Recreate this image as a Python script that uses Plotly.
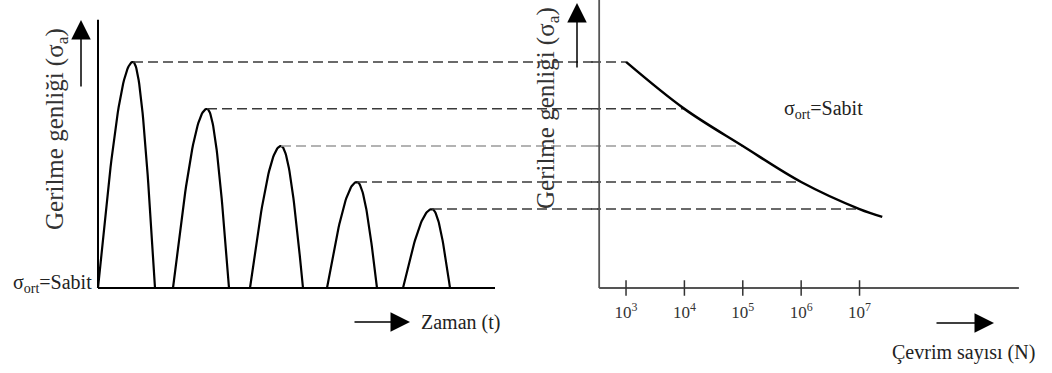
import numpy as np
import plotly.graph_objects as go

W, H = 1052, 373

# ---- data ----
pulse_start = [0.00, 1.50, 3.04, 4.58, 6.10]   # time
pulse_peak_t = [0.70, 2.18, 3.66, 5.18, 6.68]
pulse_end = [1.14, 2.62, 4.10, 5.58, 7.04]
amplitudes = [7.85, 6.22, 4.93, 3.68, 2.74]     # stress amplitude
cycles = [1e3, 1e4, 1e5, 1e6, 1e7]              # cycles to failure per amplitude
curve_N = [1e3, 1e4, 1e5, 1e6, 1e7, 2.45e7]
curve_S = [7.85, 6.22, 4.93, 3.68, 2.74, 2.47]
tick_vals = [1e3, 1e4, 1e5, 1e6, 1e7]
tick_text = ["10<sup>3</sup>", "10<sup>4</sup>", "10<sup>5</sup>", "10<sup>6</sup>", "10<sup>7</sup>"]
dash_colors = ["#3a3a3a", "#3a3a3a", "#9a9a9a", "#3a3a3a", "#3a3a3a"]

t_axis_max = 9.31     # height of left vertical axis
t_base_end = 7.94     # end of time baseline
left_range = [-0.2, 10.02]
n_axis_log = 2.54     # log10 position of N-axis origin
right_range = [2.40, 9.80]
n_base_end_log = 9.73

fig = go.Figure()

blk = dict(color="black", width=2)

# left panel axes
fig.add_trace(go.Scatter(x=[0, 0], y=[0, t_axis_max], mode="lines", line=blk,
                         xaxis="x", yaxis="y", hoverinfo="skip"))
fig.add_trace(go.Scatter(x=[0, t_base_end], y=[0, 0], mode="lines", line=blk,
                         xaxis="x", yaxis="y", hoverinfo="skip"))

# pulses
for s, p, e, a in zip(pulse_start, pulse_peak_t, pulse_end, amplitudes):
    u = np.linspace(0, 1, 40)
    xr = s + (p - s) * u
    yr = a * np.sin(np.pi / 2 * u)
    xf = p + (e - p) * u
    yf = a * np.cos(np.pi / 2 * u)
    fig.add_trace(go.Scatter(x=np.concatenate([xr, xf]), y=np.concatenate([yr, yf]),
                             mode="lines", line=dict(color="black", width=2.2),
                             xaxis="x", yaxis="y", hoverinfo="skip"))

# dashed connectors
for p, a, n, c in zip(pulse_peak_t, amplitudes, cycles, dash_colors):
    fig.add_trace(go.Scatter(x=[p, left_range[1]], y=[a, a], mode="lines",
                             line=dict(color=c, width=1.5, dash="10px,5px"),
                             xaxis="x", yaxis="y", hoverinfo="skip"))
    fig.add_trace(go.Scatter(x=[10 ** right_range[0], n], y=[a, a], mode="lines",
                             line=dict(color=c, width=1.5, dash="10px,5px"),
                             xaxis="x2", yaxis="y2", hoverinfo="skip"))

# right panel axes
gray_axis = dict(color="#555555", width=1.8)
fig.add_trace(go.Scatter(x=[10 ** n_axis_log, 10 ** n_axis_log], y=[0, 10.2], mode="lines",
                         line=gray_axis, xaxis="x2", yaxis="y2", hoverinfo="skip"))
fig.add_trace(go.Scatter(x=[10 ** n_axis_log, 10 ** n_base_end_log], y=[0, 0], mode="lines",
                         line=gray_axis, xaxis="x2", yaxis="y2", hoverinfo="skip"))
fig.add_trace(go.Scatter(x=tick_vals, y=[0] * len(tick_vals), mode="markers",
                         marker=dict(symbol="line-ns", size=11, line=dict(color="#333", width=1.5)),
                         xaxis="x2", yaxis="y2", hoverinfo="skip"))

# S-N curve
fig.add_trace(go.Scatter(x=curve_N, y=curve_S, mode="lines", line=dict(color="black", width=2.5, shape="spline"),
                         xaxis="x2", yaxis="y2", hoverinfo="skip"))

y_bottom_px = 288 + 0.3 * 28.8
ydom = [1 - y_bottom_px / H, 1]

SERIF = "Liberation Serif, Times New Roman, Times, serif"

fig.update_layout(
    width=W, height=H, margin=dict(l=0, r=0, t=0, b=0),
    paper_bgcolor="white", plot_bgcolor="rgba(0,0,0,0)", showlegend=False,
    font=dict(family=SERIF, color="#222"),
    xaxis=dict(domain=[88 / W, 599 / W], range=left_range, visible=False),
    yaxis=dict(domain=ydom, range=[-0.3, 10], visible=False),
    xaxis2=dict(domain=[591 / W, 1023 / W], range=right_range, type="log",
                showgrid=False, zeroline=False, showline=False,
                tickvals=tick_vals, ticktext=tick_text, ticks="",
                tickfont=dict(family=SERIF, size=17, color="#333"),
                ticklabelstandoff=3, anchor="y2"),
    yaxis2=dict(domain=ydom, range=[-0.3, 10], visible=False, anchor="x2"),
)


def px(x):
    return x / W


def py(y):
    return 1 - y / H


ann = []
serif = dict(family=SERIF, size=20, color="#222")
rot = dict(family=SERIF, size=25, color="#333")
P = dict(xref="paper", yref="paper", showarrow=False)
ann.append(dict(x=px(56), y=py(129), text="Gerilme genliği (σ<sub>a</sub>)", textangle=-90,
                font=rot, xanchor="center", yanchor="middle", **P))
ann.append(dict(x=px(548), y=py(108), text="Gerilme genliği (σ<sub>a</sub>)", textangle=-90,
                font=rot, xanchor="center", yanchor="middle", **P))
ann.append(dict(x=px(94), y=py(283), text="σ<sub>ort</sub>=Sabit", font=serif,
                xanchor="right", yanchor="middle", **P))
ann.append(dict(x=px(782), y=py(110), text="σ<sub>ort</sub>=Sabit", font=serif,
                xanchor="left", yanchor="middle", **P))
ann.append(dict(x=px(419), y=py(322), text="Zaman (t)", font=serif,
                xanchor="left", yanchor="middle", **P))
ann.append(dict(x=px(890), y=py(352), text="Çevrim sayısı (N)", font=serif,
                xanchor="left", yanchor="middle", **P))

arrow = dict(showarrow=True, arrowhead=2, arrowsize=2.6, arrowwidth=1.5, arrowcolor="black",
             text="", xref="paper", yref="paper")
ann.append(dict(x=px(81), y=py(20), ax=0, ay=68, **arrow))
ann.append(dict(x=px(577), y=py(3), ax=0, ay=66, **arrow))
ann.append(dict(x=px(410), y=py(322), ax=-57, ay=0, **arrow))
ann.append(dict(x=px(994), y=py(323), ax=-59, ay=0, **arrow))

fig.update_layout(annotations=ann)
fig.write_html("out.html", config={"displayModeBar": False},
               post_script="document.body.style.margin='0px';")
